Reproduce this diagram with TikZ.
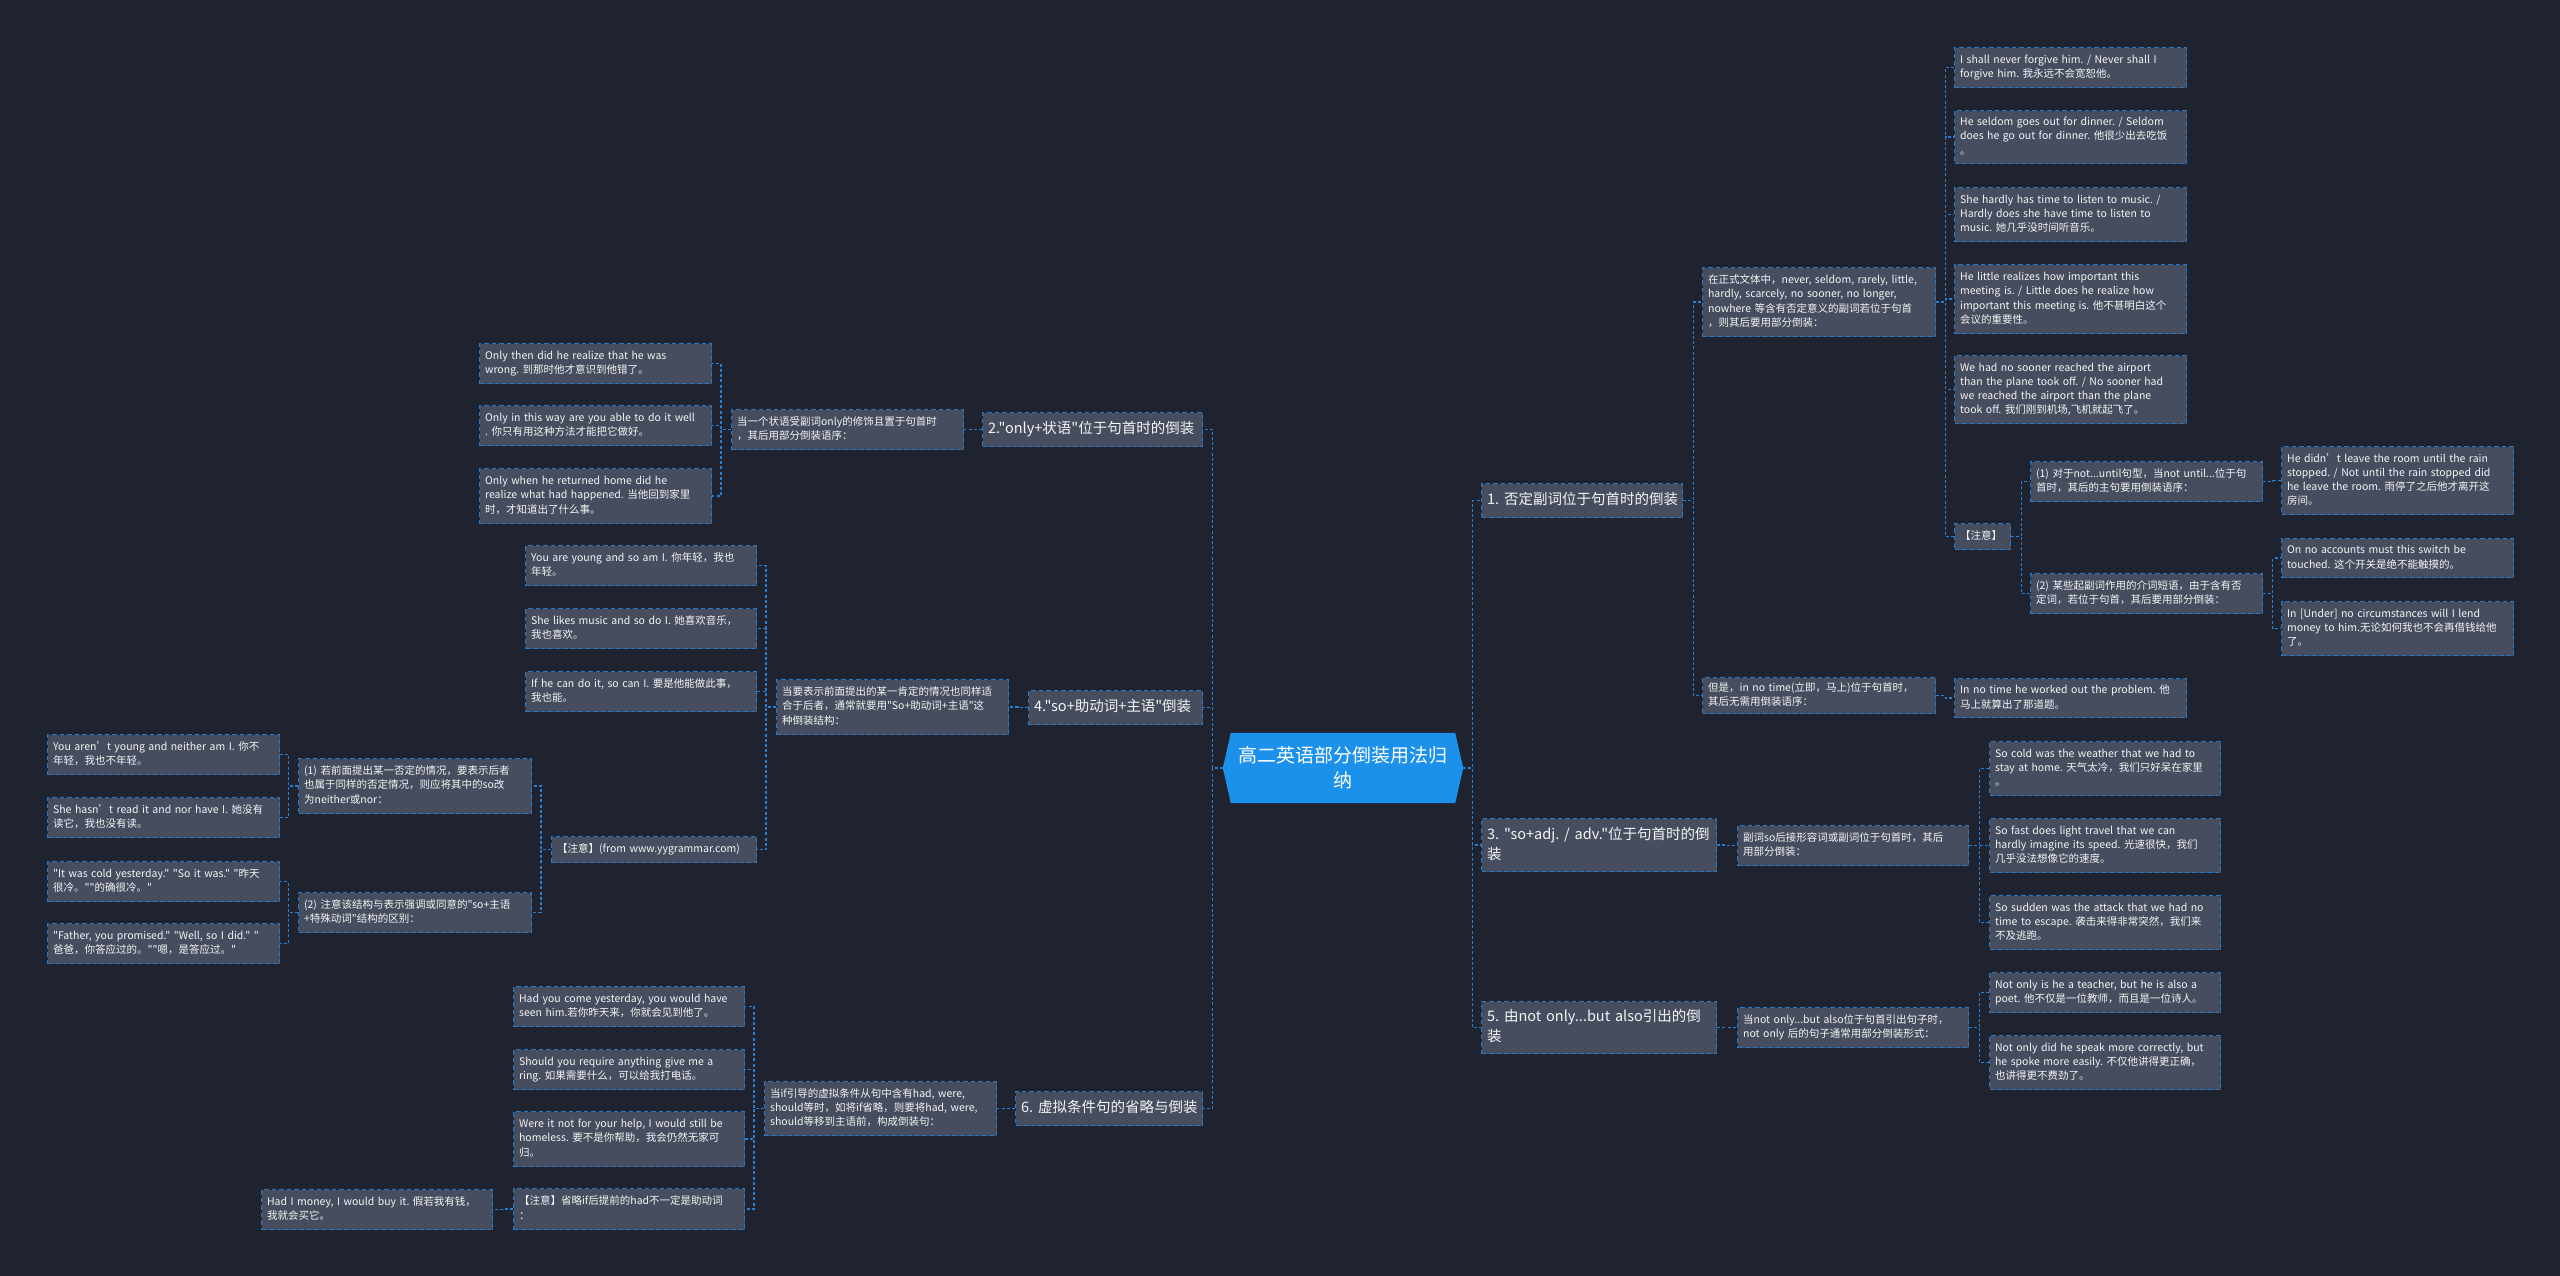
\documentclass[tikz,border=0pt]{standalone}
\usepackage{fontspec}
\newfontfamily\cjkf{Noto Sans CJK SC}
\frenchspacing
\definecolor{bgc}{RGB}{31,35,48}
\definecolor{boxc}{RGB}{70,77,94}
\definecolor{bdc}{RGB}{38,121,200}
\definecolor{linec}{RGB}{42,126,205}
\definecolor{ctrc}{RGB}{27,145,236}
\definecolor{txtc}{RGB}{245,245,245}
\newcommand\fs{\cjkf\fontsize{10.5}{14.3}\selectfont}
\newcommand\fb{\cjkf\fontsize{14.5}{20}\selectfont}
\newcommand\fc{\cjkf\fontsize{19}{25}\selectfont}
\newcommand\mytl[1]{\begin{tabular}{@{}l@{}}#1\end{tabular}}
\pgfdeclarelayer{bglayer}
\pgfsetlayers{bglayer,main}
\begin{document}
\begin{tikzpicture}[x=1pt,y=-1pt,
  box/.style={draw=bdc, fill=boxc, line width=1.2pt, dash pattern=on 4.5pt off 3pt, anchor=north west, inner xsep=5.5pt, inner ysep=2pt, align=left, text=txtc, font=\fs},
  br/.style={box, font=\fb},
  tw/.style={text width=#1pt},
  mh/.style={minimum height=#1pt},
  con/.style={draw=linec, line width=1.3pt, dash pattern=on 3pt off 2.2pt}]
\begin{pgfonlayer}{bglayer}
\fill[bgc] (0,0) rectangle (2560,1276);
\end{pgfonlayer}
\useasboundingbox (0,0) rectangle (2560,1276);

% centre
\node[minimum width=240pt, minimum height=70pt, align=center, text=white, font=\fc, inner sep=0pt] (c) at (1343,768) {高二英语部分倒装用法归\\纳};
\begin{pgfonlayer}{bglayer}
\fill[ctrc] (c.west) -- ([xshift=8pt]c.north west) -- ([xshift=-8pt]c.north east) -- (c.east) -- ([xshift=-8pt]c.south east) -- ([xshift=8pt]c.south west) -- cycle;
\end{pgfonlayer}

% ---------- right side ----------
\node[br,tw=190,mh=34] (b1) at (1481,483) {\mytl{1. 否定副词位于句首时的倒装}};
\node[br,tw=224,mh=53] (b3) at (1481,818) {\mytl{3. "so+adj. / adv."位于句首时的倒\\装}};
\node[br,tw=224,mh=52] (b5) at (1481,1001) {\mytl{5. 由not only...but also引出的倒\\装}};

\node[box,tw=222,mh=69] (n11) at (1702,267) {\mytl{在正式文体中，never, seldom, rarely, little,\\ hardly, scarcely, no sooner, no longer,\\nowhere 等含有否定意义的副词若位于句首\\，则其后要用部分倒装：}};
\node[box,tw=222,mh=36] (n12) at (1702,677) {\mytl{但是，in no time(立即，马上)位于句首时，\\其后无需用倒装语序：}};

\node[box,tw=221,mh=40] (L1) at (1954,47) {\mytl{I shall never forgive him. / Never shall I\\forgive him. 我永远不会宽恕他。}};
\node[box,tw=221,mh=53] (L2) at (1954,110) {\mytl{He seldom goes out for dinner. / Seldom\\does he go out for dinner. 他很少出去吃饭\\。}};
\node[box,tw=221,mh=54] (L3) at (1954,187) {\mytl{She hardly has time to listen to music. /\\Hardly does she have time to listen to\\music. 她几乎没时间听音乐。}};
\node[box,tw=221,mh=69] (L4) at (1954,264) {\mytl{He little realizes how important this\\meeting is. / Little does he realize how\\important this meeting is. 他不甚明白这个\\会议的重要性。}};
\node[box,tw=221,mh=68] (L5) at (1954,355) {\mytl{We had no sooner reached the airport\\than the plane took off. / No sooner had\\we reached the airport than the plane\\took off. 我们刚到机场,飞机就起飞了。}};
\node[box,tw=45,mh=26] (zy) at (1954,523) {\mytl{【注意】}};
\node[box,tw=221,mh=40] (p1) at (2030,461) {\mytl{(1) 对于not...until句型，当not until...位于句\\首时，其后的主句要用倒装语序：}};
\node[box,tw=221,mh=40] (p2) at (2030,573) {\mytl{(2) 某些起副词作用的介词短语，由于含有否\\定词，若位于句首，其后要用部分倒装：}};
\node[box,tw=221,mh=68] (r1) at (2281,446) {\mytl{He didn’t leave the room until the rain\\stopped. / Not until the rain stopped did\\he leave the room. 雨停了之后他才离开这\\房间。}};
\node[box,tw=221,mh=39] (r2) at (2281,538) {\mytl{On no accounts must this switch be\\touched. 这个开关是绝不能触摸的。}};
\node[box,tw=221,mh=54] (r3) at (2281,601) {\mytl{In [Under] no circumstances will I lend\\money to him.无论如何我也不会再借钱给他\\了。}};
\node[box,tw=221,mh=39] (nt) at (1954,678) {\mytl{In no time he worked out the problem. 他\\马上就算出了那道题。}};

\node[box,tw=220,mh=40] (s3) at (1737,825) {\mytl{副词so后接形容词或副词位于句首时，其后\\用部分倒装：}};
\node[box,tw=220,mh=54] (sc1) at (1989,741) {\mytl{So cold was the weather that we had to\\stay at home. 天气太冷，我们只好呆在家里\\。}};
\node[box,tw=220,mh=54] (sc2) at (1989,818) {\mytl{So fast does light travel that we can\\hardly imagine its speed. 光速很快，我们\\几乎没法想像它的速度。}};
\node[box,tw=220,mh=54] (sc3) at (1989,895) {\mytl{So sudden was the attack that we had no\\ time to escape. 袭击来得非常突然，我们来\\不及逃跑。}};

\node[box,tw=220,mh=40] (s5) at (1737,1007) {\mytl{当not only...but also位于句首引出句子时，\\not only 后的句子通常用部分倒装形式：}};
\node[box,tw=220,mh=40] (no1) at (1989,972) {\mytl{Not only is he a teacher, but he is also a\\poet. 他不仅是一位教师，而且是一位诗人。}};
\node[box,tw=220,mh=54] (no2) at (1989,1035) {\mytl{Not only did he speak more correctly, but\\ he spoke more easily. 不仅他讲得更正确，\\也讲得更不费劲了。}};

% ---------- left side ----------
\node[br,tw=209,mh=34] (b2) at (982,412) {\mytl{2."only+状语"位于句首时的倒装}};
\node[br,tw=163,mh=34] (b4) at (1028,690) {\mytl{4."so+助动词+主语"倒装}};
\node[br,tw=176,mh=34] (b6) at (1015,1091) {\mytl{6. 虚拟条件句的省略与倒装}};

\node[box,tw=221,mh=40] (q2) at (731,409) {\mytl{当一个状语受副词only的修饰且置于句首时\\，其后用部分倒装语序：}};
\node[box,tw=221,mh=40] (o1) at (479,343) {\mytl{Only then did he realize that he was\\wrong. 到那时他才意识到他错了。}};
\node[box,tw=221,mh=40] (o2) at (479,405) {\mytl{Only in this way are you able to do it well\\. 你只有用这种方法才能把它做好。}};
\node[box,tw=221,mh=55] (o3) at (479,468) {\mytl{Only when he returned home did he\\realize what had happened. 当他回到家里\\时，才知道出了什么事。}};

\node[box,tw=221,mh=55] (q4) at (776,679) {\mytl{当要表示前面提出的某一肯定的情况也同样适\\合于后者，通常就要用"So+助动词+主语"这\\种倒装结构：}};
\node[box,tw=220,mh=40] (y1) at (525,545) {\mytl{You are young and so am I. 你年轻，我也\\年轻。}};
\node[box,tw=220,mh=40] (y2) at (525,608) {\mytl{She likes music and so do I. 她喜欢音乐，\\我也喜欢。}};
\node[box,tw=220,mh=40] (y3) at (525,671) {\mytl{If he can do it, so can I. 要是他能做此事，\\我也能。}};
\node[box,tw=194,mh=26] (zf) at (551,836) {\mytl{【注意】(from www.yygrammar.com)}};
\node[box,tw=222,mh=55] (f1) at (298,758) {\mytl{(1) 若前面提出某一否定的情况，要表示后者\\也属于同样的否定情况，则应将其中的so改\\为neither或nor：}};
\node[box,tw=222,mh=40] (f2) at (298,892) {\mytl{(2) 注意该结构与表示强调或同意的"so+主语\\+特殊动词"结构的区别：}};
\node[box,tw=221,mh=40] (g1) at (47,734) {\mytl{You aren’t young and neither am I. 你不\\年轻，我也不年轻。}};
\node[box,tw=221,mh=40] (g2) at (47,797) {\mytl{She hasn’t read it and nor have I. 她没有\\读它，我也没有读。}};
\node[box,tw=221,mh=40] (g3) at (47,861) {\mytl{"It was cold yesterday." "So it was." "昨天\\很冷。""的确很冷。"}};
\node[box,tw=221,mh=40] (g4) at (47,923) {\mytl{"Father, you promised." "Well, so I did." "\\爸爸，你答应过的。""嗯，是答应过。"}};

\node[box,tw=221,mh=54] (q6) at (764,1081) {\mytl{当if引导的虚拟条件从句中含有had, were,\\should等时，如将if省略，则要将had, were,\\ should等移到主语前，构成倒装句：}};
\node[box,tw=220,mh=40] (h1) at (513,986) {\mytl{Had you come yesterday, you would have\\ seen him.若你昨天来，你就会见到他了。}};
\node[box,tw=220,mh=40] (h2) at (513,1049) {\mytl{Should you require anything give me a\\ring. 如果需要什么，可以给我打电话。}};
\node[box,tw=220,mh=55] (h3) at (513,1111) {\mytl{Were it not for your help, I would still be\\homeless. 要不是你帮助，我会仍然无家可\\归。}};
\node[box,tw=220,mh=41] (h4) at (513,1188) {\mytl{【注意】省略if后提前的had不一定是助动词\\：}};
\node[box,tw=220,mh=40] (hm) at (261,1189) {\mytl{Had I money, I would buy it. 假若我有钱，\\我就会买它。}};

% ---------- connectors ----------
\begin{pgfonlayer}{bglayer}
\foreach \k in {b1,b3,b5} \draw[con] (c.east) -- ++(9,0) |- (\k.west);
\foreach \k in {n11,n12} \draw[con] (b1.east) -- ++(10,0) |- (\k.west);
\foreach \k in {L1,L2,L3,L4,L5,zy} \draw[con] (n11.east) -- ++(9.5,0) |- (\k.west);
\foreach \k in {p1,p2} \draw[con] (zy.east) -- ++(10,0) |- (\k.west);
\draw[con] (p1.east) -- ++(9.5,0) |- (r1.west);
\foreach \k in {r2,r3} \draw[con] (p2.east) -- ++(9.5,0) |- (\k.west);
\draw[con] (n12.east) -- ++(9.5,0) |- (nt.west);
\draw[con] (b3.east) -- ++(10,0) |- (s3.west);
\foreach \k in {sc1,sc2,sc3} \draw[con] (s3.east) -- ++(10,0) |- (\k.west);
\draw[con] (b5.east) -- ++(10,0) |- (s5.west);
\foreach \k in {no1,no2} \draw[con] (s5.east) -- ++(10,0) |- (\k.west);

\foreach \k in {b2,b4,b6} \draw[con] (c.west) -- ++(-10,0) |- (\k.east);
\draw[con] (b2.west) -- ++(-9.5,0) |- (q2.east);
\foreach \k in {o1,o2,o3} \draw[con] (q2.west) -- ++(-10,0) |- (\k.east);
\draw[con] (b4.west) -- ++(-10,0) |- (q4.east);
\foreach \k in {y1,y2,y3,zf} \draw[con] (q4.west) -- ++(-10,0) |- (\k.east);
\foreach \k in {f1,f2} \draw[con] (zf.west) -- ++(-10,0) |- (\k.east);
\foreach \k in {g1,g2} \draw[con] (f1.west) -- ++(-9.5,0) |- (\k.east);
\foreach \k in {g3,g4} \draw[con] (f2.west) -- ++(-9.5,0) |- (\k.east);
\draw[con] (b6.west) -- ++(-9.5,0) |- (q6.east);
\foreach \k in {h1,h2,h3,h4} \draw[con] (q6.west) -- ++(-10,0) |- (\k.east);
\draw[con] (h4.west) -- ++(-10,0) |- (hm.east);
\end{pgfonlayer}
\end{tikzpicture}
\end{document}
